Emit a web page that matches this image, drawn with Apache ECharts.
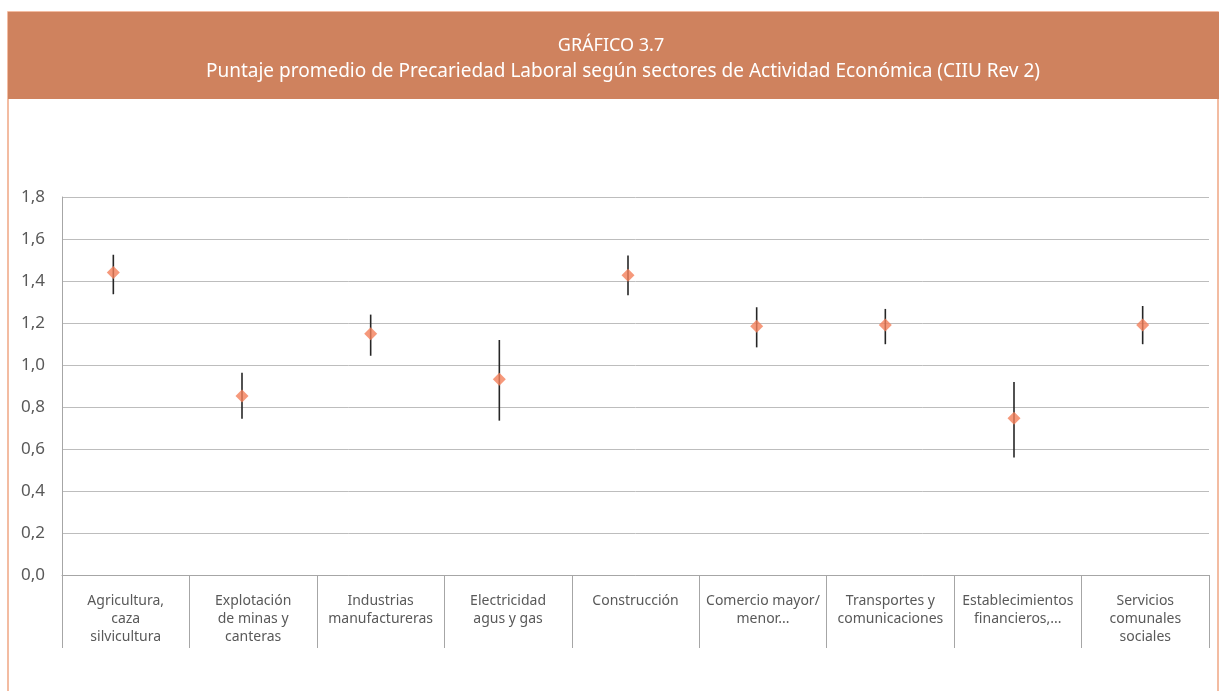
<!DOCTYPE html>
<html>
<head>
<meta charset="utf-8">
<title>Puntaje promedio de Precariedad Laboral</title>
<script src="https://cdn.jsdelivr.net/npm/echarts@6/dist/echarts.min.js"></script>
<style>
  html, body { margin: 0; padding: 0; background: #ffffff; }
  #chart { width: 1223px; height: 691px; }
</style>
</head>
<body>
<div id="chart"></div>
<script>
// Sectores de actividad económica (CIIU Rev 2)
const categories = [
  'Agricultura,\ncaza\nsilvicultura',
  'Explotación\nde minas y\ncanteras',
  'Industrias\nmanufactureras',
  'Electricidad\nagus y gas',
  'Construcción',
  'Comercio mayor/\nmenor...',
  'Transportes y\ncomunicaciones',
  'Establecimientos\nfinancieros,...',
  'Servicios\ncomunales\nsociales'
];

// Puntaje promedio y sus límites inferior / superior
const meanScore = [1.441, 0.852, 1.149, 0.932, 1.427, 1.184, 1.190, 0.746, 1.190];
const lowerBound = [1.337, 0.744, 1.044, 0.735, 1.332, 1.084, 1.099, 0.560, 1.099];
const upperBound = [1.525, 0.963, 1.240, 1.119, 1.522, 1.275, 1.267, 0.919, 1.281];

// Marcas del eje vertical
const yTicks = [0, 0.2, 0.4, 0.6, 0.8, 1.0, 1.2, 1.4, 1.6, 1.8];

const chart = echarts.init(document.getElementById('chart'), null, { renderer: 'canvas' });

const FONT = '"Noto Sans", "Open Sans", sans-serif';
const HEADER = '#CF825E';
const FRAME = '#EFA684';
const GRID_GRAY = '#BDBDBD';
const AXIS_GRAY = '#A6A6A6';
const TEXT_GRAY = '#595959';

const intervals = categories.map((c, i) => [i, lowerBound[i], upperBound[i]]);

const option = {
  backgroundColor: '#ffffff',
  animation: false,
  graphic: [
    {
      type: 'rect',
      shape: { x: 8, y: 12, width: 1210, height: 720 },
      style: { fill: 'none', stroke: FRAME, lineWidth: 1.5 },
      z: 0
    },
    {
      type: 'rect',
      shape: { x: 8, y: 12, width: 1211, height: 87 },
      style: { fill: HEADER },
      z: 1
    },
    {
      type: 'text',
      x: 611, y: 46,
      style: {
        text: 'GRÁFICO 3.7',
        fill: '#ffffff', font: '18px ' + FONT,
        textAlign: 'center', textVerticalAlign: 'middle'
      },
      z: 2
    },
    {
      type: 'text',
      x: 623, y: 72,
      style: {
        text: 'Puntaje promedio de Precariedad Laboral según sectores de Actividad Económica (CIIU Rev 2)',
        fill: '#ffffff', font: '19px ' + FONT,
        textAlign: 'center', textVerticalAlign: 'middle'
      },
      z: 2
    }
  ],
  grid: [
    { left: 62, right: 14, top: 197, bottom: 116 },
    { left: 49, right: 16, top: 197, bottom: 116 }
  ],
  xAxis: [
    {
      type: 'category',
      gridIndex: 0,
      data: categories,
      boundaryGap: true,
      axisLine: { show: true, lineStyle: { color: AXIS_GRAY, width: 1 } },
      axisTick: { show: true, interval: 0, length: 73, lineStyle: { color: AXIS_GRAY, width: 1 } },
      axisLabel: {
        interval: 0,
        margin: 17,
        color: TEXT_GRAY,
        fontFamily: FONT,
        fontSize: 14,
        lineHeight: 18,
        align: 'center'
      },
      splitLine: { show: false }
    },
    {
      type: 'category',
      gridIndex: 1,
      data: categories,
      boundaryGap: true,
      show: false
    }
  ],
  yAxis: [
    {
      type: 'value',
      gridIndex: 0,
      min: yTicks[0],
      max: yTicks[yTicks.length - 1],
      interval: 0.2,
      axisLine: { show: true, lineStyle: { color: AXIS_GRAY, width: 1 } },
      axisTick: { show: false },
      axisLabel: {
        margin: 17,
        color: TEXT_GRAY,
        fontFamily: FONT,
        fontSize: 17,
        formatter: v => v.toFixed(1).replace('.', ',')
      },
      splitLine: { show: true, lineStyle: { color: GRID_GRAY, width: 1 } }
    },
    {
      type: 'value',
      gridIndex: 1,
      min: yTicks[0],
      max: yTicks[yTicks.length - 1],
      interval: 0.2,
      show: false,
      splitLine: { show: false }
    }
  ],
  series: [
    {
      name: 'Intervalo',
      type: 'custom',
      xAxisIndex: 1,
      yAxisIndex: 1,
      data: intervals,
      z: 3,
      renderItem: function (params, api) {
        const lo = api.coord([api.value(0), api.value(1)]);
        const hi = api.coord([api.value(0), api.value(2)]);
        return {
          type: 'line',
          shape: { x1: lo[0], y1: lo[1], x2: hi[0], y2: hi[1] },
          style: { stroke: '#262626', lineWidth: 1.6 }
        };
      }
    },
    {
      name: 'Puntaje promedio',
      type: 'scatter',
      xAxisIndex: 1,
      yAxisIndex: 1,
      data: meanScore,
      symbol: 'diamond',
      symbolSize: 13,
      itemStyle: { color: '#F47F5A' },
      z: 5
    }
  ]
};

chart.setOption(option);
</script>
</body>
</html>
